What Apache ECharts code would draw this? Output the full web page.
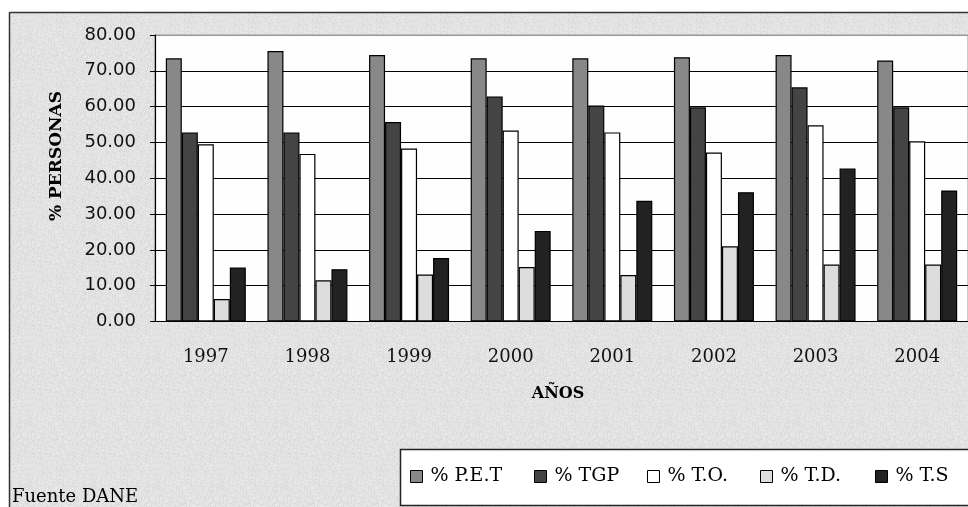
<!DOCTYPE html>
<html>
<head>
<meta charset="utf-8">
<title>% Personas por año</title>
<script src="https://cdn.jsdelivr.net/npm/echarts@6/dist/echarts.min.js"></script>
<style>
  html, body { margin: 0; padding: 0; background: #fff; }
  #main { width: 968px; height: 507px; }
</style>
</head>
<body>
<div id="main"></div>
<script>
  // años
  var years = ['1997', '1998', '1999', '2000', '2001', '2002', '2003', '2004'];
  // series
  var pet = [73.5, 75.5, 74.4, 73.5, 73.5, 73.8, 74.4, 72.9];
  var tgp = [52.8, 52.8, 55.7, 62.8, 60.3, 59.8, 65.4, 59.8];
  var to = [49.5, 46.8, 48.3, 53.3, 52.8, 47.2, 54.8, 50.3];
  var td = [6.3, 11.5, 13.1, 15.2, 13.0, 21.0, 15.9, 15.9];
  var ts = [15.1, 14.6, 17.7, 25.3, 33.7, 36.1, 42.7, 36.6];
  var seriesNames = ['% P.E.T', '% TGP', '% T.O.', '% T.D.', '% T.S'];
  var yTicks = [0, 10, 20, 30, 40, 50, 60, 70, 80];

  var colors = ['#888888', '#444444', '#ffffff', '#dddddd', '#222222'];
  var legendLeft = [410, 534, 647, 760, 875];
  var serif = '"DejaVu Serif", serif';

  // textura gris del fondo (ruido fijo, no son datos)
  function makeTexture() {
    var c = document.createElement('canvas');
    c.width = 64; c.height = 64;
    var ctx = c.getContext('2d');
    var img = ctx.createImageData(64, 64);
    var seed = 12345;
    for (var i = 0; i < 64 * 64; i++) {
      seed = (seed * 1103515245 + 12345) % 2147483648;
      var g = 218 + (seed % 18);
      img.data[i * 4] = g; img.data[i * 4 + 1] = g; img.data[i * 4 + 2] = g; img.data[i * 4 + 3] = 255;
    }
    ctx.putImageData(img, 0, 0);
    return c;
  }

  var chart = echarts.init(document.getElementById('main'));

  var dataList = [pet, tgp, to, td, ts];
  var series = dataList.map(function (d, i) {
    return {
      name: seriesNames[i],
      type: 'bar',
      data: d,
      barWidth: 16,
      barGap: '0%',
      itemStyle: { color: colors[i], borderColor: '#000', borderWidth: 1.2 },
      emphasis: { disabled: true }
    };
  });

  var legends = seriesNames.map(function (n, i) {
    return {
      data: [n],
      left: legendLeft[i],
      top: 467,
      padding: 0,
      itemWidth: 12,
      itemHeight: 12,
      icon: 'rect',
      selectedMode: false,
      itemStyle: { borderColor: '#000', borderWidth: 1 },
      textStyle: { fontFamily: serif, fontSize: 19, color: '#000', padding: [0, 0, 0, 3] }
    };
  });

  chart.setOption({
    backgroundColor: { image: makeTexture(), repeat: 'repeat' },
    animation: false,
    grid: {
      left: 155, top: 35, width: 822, height: 286.5,
      show: true, backgroundColor: '#fefefe', borderColor: '#999', borderWidth: 1
    },
    legend: legends,
    xAxis: {
      type: 'category',
      data: years,
      axisLine: { lineStyle: { color: '#000', width: 1.2 } },
      axisTick: { length: 6, lineStyle: { color: '#000' } },
      axisLabel: { color: '#111', fontFamily: serif, fontSize: 18, margin: 27 }
    },
    yAxis: {
      type: 'value',
      min: yTicks[0], max: yTicks[yTicks.length - 1], interval: 10,
      axisLine: { show: true, lineStyle: { color: '#000', width: 1.2 } },
      axisTick: { show: true, length: 5, lineStyle: { color: '#000' } },
      axisLabel: {
        color: '#111', fontFamily: '"DejaVu Sans", sans-serif', fontSize: 18, margin: 19,
        formatter: function (v) { return v.toFixed(2); }
      },
      splitLine: { lineStyle: { color: ['#000', '#000', '#000', '#000', '#000', '#000', '#000', '#000', '#999'], width: 1.2 } }
    },
    graphic: [
      // fondo blanco fuera del area del grafico
      { type: 'rect', z: 100, shape: { x: 0, y: 0, width: 968, height: 12 }, style: { fill: '#fff' } },
      { type: 'rect', z: 100, shape: { x: 0, y: 0, width: 9, height: 507 }, style: { fill: '#fff' } },
      { type: 'line', z: 100, shape: { x1: 10, y1: 12.5, x2: 968, y2: 12.5 }, style: { stroke: '#333', lineWidth: 1.5 } },
      { type: 'line', z: 100, shape: { x1: 9.5, y1: 12, x2: 9.5, y2: 507 }, style: { stroke: '#333', lineWidth: 1.5 } },
      // caja de la leyenda
      { type: 'rect', z: 1, shape: { x: 400.5, y: 449.5, width: 600, height: 56 }, style: { fill: '#fff', stroke: '#222', lineWidth: 1.5 } },
      // titulos de ejes
      { type: 'text', z: 100, x: 57, y: 156, rotation: Math.PI / 2,
        style: { text: '% PERSONAS', fontFamily: serif, fontWeight: 'bold', fontSize: 17, fill: '#000', align: 'center', verticalAlign: 'middle' } },
      { type: 'text', z: 100, x: 558, y: 394,
        style: { text: 'AÑOS', fontFamily: serif, fontWeight: 'bold', fontSize: 16, fill: '#000', align: 'center', verticalAlign: 'middle' } },
      { type: 'text', z: 100, x: 12, y: 497,
        style: { text: 'Fuente DANE', fontFamily: serif, fontSize: 18, fill: '#000', align: 'left', verticalAlign: 'middle' } }
    ],
    series: series
  });
</script>
</body>
</html>
